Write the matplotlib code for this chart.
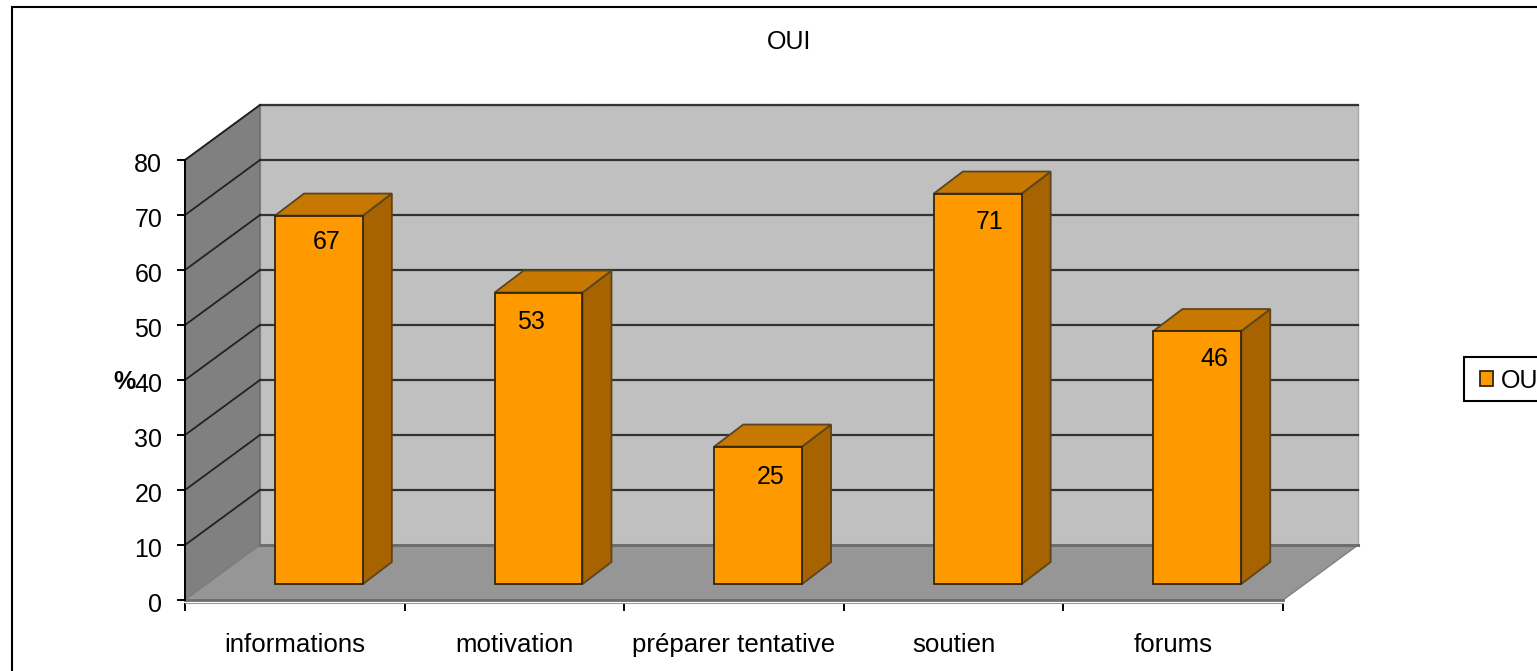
from matplotlib import pyplot as plt
from matplotlib.patches import Polygon, Rectangle
from matplotlib.transforms import ScaledTranslation

categories = ['informations', 'motivation', 'préparer tentative', 'soutien', 'forums']
values = [67, 53, 25, 71, 46]
yticks = [0, 10, 20, 30, 40, 50, 60, 70, 80]
series_name = 'OUI'

W, H = 1537, 671
plt.rcParams['font.family'] = ['Liberation Sans', 'DejaVu Sans']
FS = 18

# depth of the fake 3D box, in data units
DX, DY = 0.3415, 10
BAR_W, BAR_DX, BAR_DY = 0.4, 0.132, 4
BAR_SHIFT, BAR_BASE = 0.11, 2.9

ORANGE, ORANGE_SIDE, ORANGE_TOP = '#FF9900', '#A66300', '#C67800'
BAR_EDGE = '#33260f'

fig = plt.figure(figsize=(W / 100, H / 100), dpi=100)
ax = fig.add_axes([185 / W, (H - 600) / H, 1098 / W, 440 / H])
n = len(categories)
ax.set_xlim(0, n)
ax.set_ylim(0, yticks[-1])
ax.patch.set_visible(False)

top = yticks[-1]

def poly(points, color, edge='#555555', lw=1.0, z=1, ls='-'):
    ax.add_patch(Polygon(points, closed=True, facecolor=color, edgecolor=edge,
                         linewidth=lw, zorder=z, clip_on=False, linestyle=ls))

# Walls and floor
poly([(DX, DY), (n + DX, DY), (n + DX, top + DY), (DX, top + DY)], '#C0C0C0', '#a8a8a8')
poly([(0, 0), (DX, DY), (DX, top + DY), (0, top)], '#808080', '#6a6a6a')
poly([(0, 0), (n, 0), (n + DX, DY), (DX, DY)], '#969696', '#808080')

# Edges of the box
ax.plot([DX, n + DX], [top + DY, top + DY], color='#333333', lw=1.5, ls=(0, (1, 0.5)), zorder=2, clip_on=False)
ax.plot([0, DX], [top, top + DY], color='#444444', lw=1.1, ls=(0, (1, 0.5)), zorder=2, clip_on=False)
ax.plot([DX, n + DX], [DY, DY], color='#6e6e6e', lw=2.2, zorder=2, clip_on=False)
ax.plot([0, n], [0, 0], color='#6e6e6e', lw=2, zorder=2, clip_on=False)

# Gridlines on back wall and left wall
for v in yticks[1:]:
    ax.plot([DX, n + DX], [v + DY, v + DY], color='#333333', lw=1.6, zorder=2, clip_on=False)
    ax.plot([0, DX], [v, v + DY], color='#222222', lw=1.3, zorder=2, clip_on=False)

# Bars
xs = [i + 0.5 + BAR_SHIFT for i in range(n)]
bars = ax.bar(xs, values, width=BAR_W, bottom=BAR_BASE, color=ORANGE, edgecolor=BAR_EDGE,
              linewidth=1.3, zorder=5, clip_on=False, label=series_name)
for x, v in zip(xs, values):
    r = x + BAR_W / 2
    l = x - BAR_W / 2
    t = v + BAR_BASE
    poly([(r, BAR_BASE), (r + BAR_DX, BAR_BASE + BAR_DY), (r + BAR_DX, t + BAR_DY), (r, t)],
         ORANGE_SIDE, '#5a4520', 1.3, 4)
    poly([(l, t), (r, t), (r + BAR_DX, t + BAR_DY), (l + BAR_DX, t + BAR_DY)],
         ORANGE_TOP, '#5a4520', 1.3, 4)

# Value labels sit a little off centre, as in the original
nudge_x = [8, -8, 12, 12, 17]
nudge_y = [26, 29, 30, 28, 28]
for x, v, dx, dy in zip(xs, values, nudge_x, nudge_y):
    ax.annotate(str(v), xy=(x, v + BAR_BASE), xytext=(dx * 0.72, -dy * 0.72),
                textcoords='offset points', ha='center', va='center', fontsize=FS,
                color='black', zorder=6)

# Axes
ax.set_yticks(yticks)
ax.set_xticks(range(n + 1))
ax.set_xticklabels([])
ax.set_xticks([i + 0.5 for i in range(n)], minor=True)
ax.set_xticklabels(categories, minor=True)
ax.tick_params(axis='x', which='major', length=5.5, width=1.4, color='black', direction='out')
ax.tick_params(axis='x', which='minor', length=0, pad=22, labelsize=18.6)
ax.tick_params(axis='y', length=5.8, width=1.4, pad=10.5, labelsize=FS)
for lab in ax.get_yticklabels():
    lab.set_transform(lab.get_transform() + ScaledTranslation(0, -2 / 72, fig.dpi_scale_trans))
for s in ['top', 'right']:
    ax.spines[s].set_visible(False)
ax.spines['left'].set_linewidth(1.4)
ax.spines['bottom'].set_color('#999999')
ax.spines['bottom'].set_linestyle((0, (1, 1)))
ax.spines['bottom'].set_position(('outward', 2))

fig.text(124 / W, 1 - 382 / H, '%', ha='center', va='center', fontsize=FS, fontweight='bold')
fig.text(789.5 / W, 1 - 42 / H, series_name, ha='center', va='center', fontsize=FS)

# Chart border runs off the right and bottom of the picture
fig.add_artist(Rectangle((12 / W, -0.05), 1.1, 1.05 - 7 / H, transform=fig.transFigure,
                         fill=False, edgecolor='black', linewidth=1.5))

# Legend box is cut by the picture edge
fig.add_artist(Rectangle((1464 / W, 1 - 401 / H), 100 / W, 44 / H, transform=fig.transFigure,
                         facecolor='white', edgecolor='black', linewidth=1.5))
leg = fig.legend(handles=[bars], labels=[series_name], loc='center left',
                 bbox_to_anchor=(1480 / W, 1 - 380.5 / H), fontsize=FS, frameon=False,
                 handlelength=0.52, handleheight=0.52, handletextpad=0.32,
                 borderpad=0, borderaxespad=0)

fig.savefig('out.png', dpi=100)
